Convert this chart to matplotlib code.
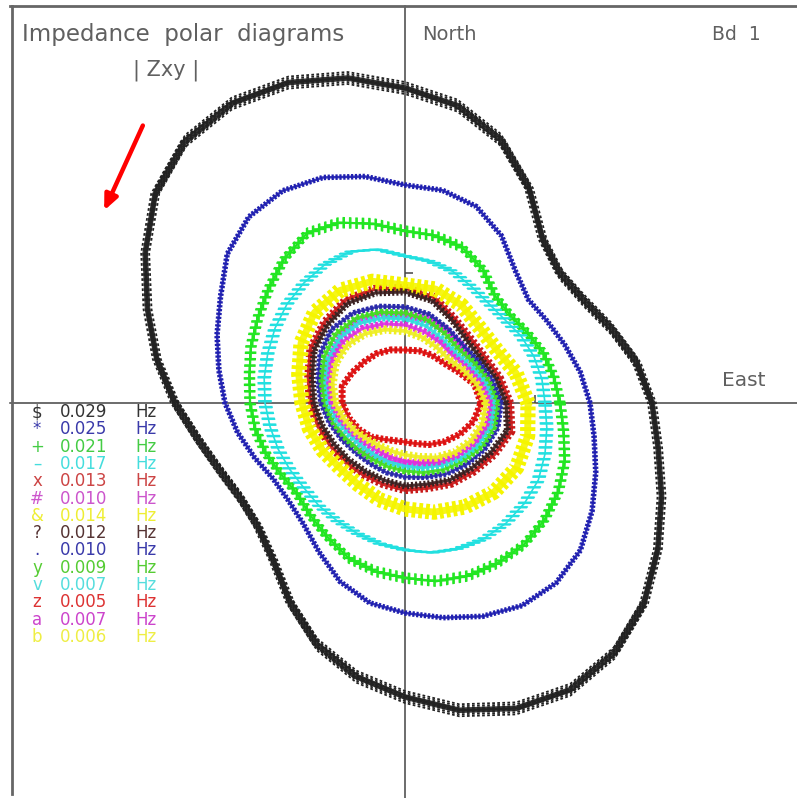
import numpy as np
import matplotlib.pyplot as plt
from matplotlib import transforms
from matplotlib.lines import Line2D

# radii, counter-clockwise from East (1 tick = 130)
ang10 = np.arange(0, 360, 10)
ang15 = np.arange(0, 360, 15)

r_029 = [247, 235, 219, 206, 202, 214, 248, 280, 302, 315, 330, 341,
         346, 342, 326, 300, 274, 252, 230, 210, 197, 190, 192, 205,
         230, 257, 278, 294, 312, 325, 331, 326, 312, 292, 273, 257]
r_025 = [185, 178, 170, 164, 161, 172, 193, 209, 216, 218, 230, 240,
         245, 243, 232, 213, 200, 189, 180, 170, 160, 152, 152, 158,
         172, 190, 203, 210, 218, 227, 234, 235, 229, 216, 203, 192]
r_021 = [155, 151, 147, 141, 137, 140, 155, 166, 170, 172, 182, 192,
         196, 188, 178, 170, 164, 158, 155, 152, 148, 143, 141, 147,
         155, 165, 171, 175, 181, 184, 185, 185, 182, 177, 170, 161]
r_017 = [140, 139, 137, 134, 130, 130, 134, 140, 144, 147, 156, 161,
         160, 157, 154, 150, 146, 143, 140, 137, 135, 133, 132, 134,
         136, 139, 143, 147, 152, 155, 157, 157, 156, 154, 149, 144]
r_013 = [105, 98, 92, 92, 98, 110, 115, 118, 119, 114, 109, 100,
         95, 90, 86, 84, 83, 84, 87, 88, 93, 97, 103, 110]
r_010a = [90, 85, 80, 80, 84, 87, 88, 92, 95, 93, 88, 84,
          80, 75, 70, 66, 62, 60, 60, 63, 68, 74, 80, 86]
r_014 = [123, 115, 106, 106, 113, 118, 118, 126, 130, 128, 120, 110,
         103, 99, 95, 92, 94, 100, 106, 113, 120, 126, 129, 127]
r_012 = [101, 94, 88, 88, 95, 106, 111, 114, 115, 110, 105, 96,
         91, 86, 82, 80, 79, 80, 83, 84, 89, 93, 99, 106]
r_010b = [96, 90, 84, 82, 86, 92, 96, 100, 104, 104, 98, 90,
          84, 78, 73, 70, 70, 72, 74, 77, 82, 87, 92, 96]
r_009 = [92, 86, 80, 76, 80, 86, 90, 94, 98, 98, 93, 86,
         80, 74, 69, 66, 65, 66, 68, 72, 77, 82, 88, 92]
r_007a = [88, 82, 75, 71, 74, 80, 84, 88, 92, 92, 88, 81,
          76, 70, 64, 61, 60, 61, 63, 67, 72, 78, 84, 88]
r_005 = [76, 72, 62, 56, 55, 54, 53, 55, 57, 58, 61, 65,
         63, 58, 53, 48, 42, 39, 39, 42, 48, 55, 63, 71]
r_007b = [85, 78, 71, 67, 70, 74, 78, 82, 86, 87, 84, 78,
          73, 66, 60, 56, 55, 56, 58, 62, 68, 74, 80, 84]
r_006 = [81, 74, 67, 62, 64, 68, 72, 76, 80, 82, 80, 75,
         70, 63, 57, 52, 50, 50, 52, 56, 63, 70, 76, 80]

radii = [r_029, r_025, r_021, r_017, r_013, r_010a, r_014,
         r_012, r_010b, r_009, r_007a, r_005, r_007b, r_006]
symbols = ['$', '*', '+', '–', 'x', '#', '&', '?', '.', 'y', 'v', 'z', 'a', 'b']
freqs = ['0.029', '0.025', '0.021', '0.017', '0.013', '0.010', '0.014',
         '0.012', '0.010', '0.009', '0.007', '0.005', '0.007', '0.006']

curve_colors = ['#222222', '#1f1fb0', '#22e622', '#22e0e0', '#c81818', '#ee2aee', '#f5f500',
                '#3a2020', '#2a2aaa', '#44dd22', '#33dddd', '#dd1111', '#dd33dd', '#eeee22']
text_colors = ['#333333', '#3a3aaa', '#44cc44', '#44dddd', '#cc4444', '#cc55cc', '#eeee33',
               '#553333', '#3a3aaa', '#55cc33', '#55dddd', '#dd3333', '#cc44cc', '#eeee44']
widths = [8, 4, 7, 6, 6, 6, 11, 5, 4, 5, 5, 5, 5, 6]
dashes = [None, (0.4, 0.3), None, None, (0.3, 0.3), (0.4, 0.2), (0.25, 0.2),
          (0.3, 0.3), (0.5, 0.3), (0.4, 0.3), (0.4, 0.3), (0.4, 0.3), (0.4, 0.3), (0.3, 0.3)]

fig = plt.figure(figsize=(7.97, 7.98), dpi=100)
ax = fig.add_axes([10 / 797, 0, 787 / 797, 792 / 798])
ax.set_xlim(-395, 392)
ax.set_ylim(-395, 397)


def smear(x, y, col, shifts, lw=1.0, ls=(0, (2, 2.4))):
    # the same curve shifted by a few pixels, like a symbol dragged along it
    for dx, dy in shifts:
        tr = transforms.offset_copy(ax.transData, fig=fig, x=dx, y=dy, units='dots')
        ax.plot(x, y, color=col, lw=lw, linestyle=ls, transform=tr)


for i, (r, col, lw, ds) in enumerate(zip(radii, curve_colors, widths, dashes)):
    ang = ang10 if len(r) == 36 else ang15
    th = np.deg2rad(np.append(ang, ang[0]))
    rr = np.append(r, r[0])
    x = rr * np.cos(th)
    y = rr * np.sin(th)
    if symbols[i] == '$':
        ax.plot(x, y, color='#3a3a3a', lw=4, solid_joinstyle='round')
        smear(x, y, col, [(0, d) for d in range(-6, 7, 2)], lw=1.3, ls=(0, (1.5, 1.3)))
        smear(x, y, col, [(d, 0) for d in (-4, -2, 2, 4)], lw=1.3, ls=(0.7, (1.5, 1.3)))
    elif symbols[i] == '+':
        ax.plot(x, y, color=col, lw=1.6, solid_joinstyle='round')
        smear(x, y, col, [(d, 0) for d in range(-5, 6)], lw=1.1, ls=(0, (1.6, 2.6)))
        smear(x, y, col, [(0, d) for d in range(-5, 6)], lw=1.1, ls=(0, (1.6, 2.6)))
    elif symbols[i] == '–':
        ax.plot(x, y, color=col, lw=1.2, solid_joinstyle='round')
        smear(x, y, col, [(d, 0) for d in range(-6, 7)], lw=1.2, ls=(0, (1.4, 2.2)))
    else:
        ax.plot(x, y, color=col, lw=lw * 0.45, alpha=0.9, solid_joinstyle='round')
        ax.plot(x, y, color=col, lw=lw, linestyle=(0, ds))

# axes through the origin with one scale tick each
ax.spines['right'].set_visible(False)
ax.spines['left'].set_position(('data', 0))
ax.spines['bottom'].set_position(('data', 0))
for s in ['left', 'bottom']:
    ax.spines[s].set_color('#444444')
    ax.spines[s].set_linewidth(1.1)
    ax.spines[s].set_zorder(0.5)
ax.spines['top'].set_color('#666666')
ax.spines['top'].set_linewidth(2)
ax.set_xticks([130])
ax.set_yticks([130])
ax.tick_params(direction='in', length=6, width=1.1, color='#444444',
               labelbottom=False, labelleft=False)
fig.add_artist(Line2D([12 / 797, 12 / 797], [0.005, 792 / 798], color='#666666', lw=2))

tc = '#606060'
fig.text(22 / 797, 1 - 35 / 798, 'Impedance  polar  diagrams', fontsize=16.5, color=tc, va='center')
fig.text(133 / 797, 1 - 70 / 798, '| Zxy |', fontsize=15, color=tc, va='center')
fig.text(422 / 797, 1 - 35 / 798, 'North', fontsize=14, color=tc, va='center')
fig.text(712 / 797, 1 - 35 / 798, 'Bd  1', fontsize=13.5, color=tc, va='center')
fig.text(722 / 797, 1 - 380 / 798, 'East', fontsize=14.5, color=tc, va='center')

for i, (sym, f, c) in enumerate(zip(symbols, freqs, text_colors)):
    yy = 1 - (412 + i * 17.3) / 798
    fig.text(37 / 797, yy, sym, fontsize=12, color=c, va='center', ha='center')
    fig.text(60 / 797, yy, f, fontsize=12, color=c, va='center')
    fig.text(135 / 797, yy, 'Hz', fontsize=12, color=c, va='center')

ax.annotate('', xy=(103 / 797, 1 - 213 / 798), xytext=(144 / 797, 1 - 123 / 798),
            xycoords='figure fraction', textcoords='figure fraction',
            arrowprops=dict(arrowstyle='-|>,head_length=0.9,head_width=0.4', color='#ff0000', lw=3.2))

fig.savefig('out.png', dpi=100)
